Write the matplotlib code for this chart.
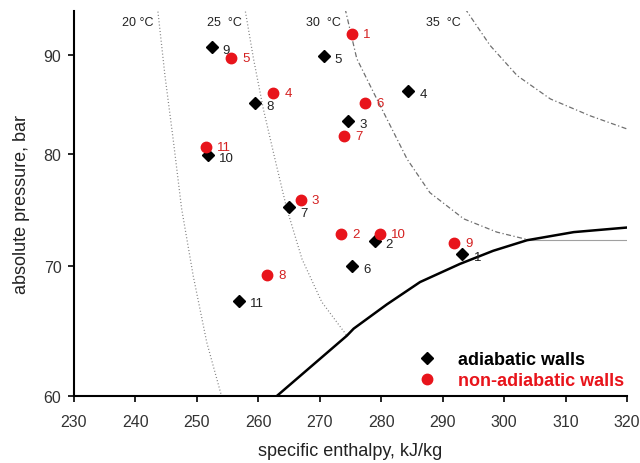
import numpy as np
import matplotlib
matplotlib.use("Agg")
import matplotlib.pyplot as plt
from matplotlib.lines import Line2D
from matplotlib.ticker import FixedLocator, NullLocator

plt.rcParams['font.family'] = ['Liberation Sans', 'DejaVu Sans']

# Adiabatic walls (black diamonds)
adi_labels = ['1', '2', '3', '4', '5', '6', '7', '8', '9', '10', '11']
adi_h = [293.2, 278.9, 274.6, 284.4, 270.6, 275.3, 265.0, 259.5, 252.4, 251.8, 256.9]
adi_p = [71.0, 72.1, 83.2, 86.2, 89.9, 70.0, 75.1, 85.0, 90.8, 79.9, 67.2]

# Non-adiabatic walls (red circles)
non_labels = ['1', '2', '3', '4', '5', '6', '7', '8', '9', '10', '11']
non_h = [275.2, 273.4, 266.9, 262.4, 255.6, 277.4, 274.0, 261.4, 291.8, 279.8, 251.4]
non_p = [92.2, 72.7, 75.7, 86.0, 89.7, 85.0, 81.7, 69.3, 72.0, 72.7, 80.7]

# Saturation curve
sat_h = [263.0, 270.0, 274.4, 275.5, 280.9, 286.3, 292.8, 298.2, 303.7, 311.3, 320.0]
sat_p = [60.0, 62.7, 64.46, 65.0, 66.9, 68.7, 70.2, 71.3, 72.2, 72.9, 73.3]

# Horizontal reference line
hline_h = [304.2, 320.0]
hline_p = [72.2, 72.2]

# Isotherms
iso20_h = [243.6, 244.8, 246.2, 247.5, 249.4, 251.6, 254.0]
iso20_p = [95.1, 87.8, 81.1, 75.0, 69.2, 63.95, 60.0]
iso25_h = [257.8, 259.2, 260.8, 262.7, 264.6, 267.1, 270.3, 274.4]
iso25_p = [95.1, 89.6, 84.4, 79.5, 75.0, 70.6, 67.1, 64.46]
iso30_h = [274.1, 276.0, 278.7, 280.9, 284.2, 287.9, 293.4, 298.8, 304.2]
iso30_p = [95.1, 89.6, 86.1, 83.4, 79.5, 76.4, 74.06, 72.9, 72.2]
iso35_h = [293.6, 297.7, 302.1, 307.5, 314.0, 320.0]
iso35_p = [95.1, 91.0, 87.8, 85.4, 83.7, 82.4]

iso_labels = ['20 °C', '25  °C', '30  °C', '35  °C']
iso_label_h = [243.0, 257.3, 273.5, 293.0]
iso_label_p = [93.6, 93.6, 93.6, 93.6]

x_ticks = [230, 240, 250, 260, 270, 280, 290, 300, 310, 320]
y_ticks = [60, 70, 80, 90]

fig = plt.figure(figsize=(6.4, 4.64), dpi=100)
ax = fig.add_axes([0.1156, 0.1444, 0.8644, 0.8296])
ax.set_yscale('log')
ax.set_xlim(230, 320)
ax.set_ylim(60, 94.8)

dot = (0, (0.8, 1.8))
dashdot = (0, (4, 2, 1, 2))
ax.plot(iso20_h, iso20_p, color='#808080', lw=0.9, ls=dot)
ax.plot(iso25_h, iso25_p, color='#808080', lw=0.9, ls=dot)
ax.plot(iso30_h, iso30_p, color='#707070', lw=0.9, ls=dashdot)
ax.plot(iso35_h, iso35_p, color='#707070', lw=0.9, ls=dashdot)
ax.plot(hline_h, hline_p, color='#a0a0a0', lw=0.8)
ax.plot(sat_h, sat_p, color='black', lw=1.8)

for lab, h, p in zip(iso_labels, iso_label_h, iso_label_p):
    ax.text(h, p, lab, ha='right', va='center', fontsize=9, color='#222222')

ax.plot(adi_h, adi_p, 'D', color='black', ms=6.5, ls='none')
ax.plot(non_h, non_p, 'o', color='#e8141b', ms=7.5, ls='none')

for lab, h, p in zip(adi_labels, adi_h, adi_p):
    off = (8, -2)
    if lab == '7':
        off = (8, -4)
    ax.annotate(lab, (h, p), xytext=off, textcoords='offset points',
                fontsize=9.5, color='#222222', va='center', ha='left')
for lab, h, p in zip(non_labels, non_h, non_p):
    ax.annotate(lab, (h, p), xytext=(8, 0), textcoords='offset points',
                fontsize=9.5, color='#d42020', va='center', ha='left')

ax.set_xticks(x_ticks)
ax.set_xticklabels([str(t) for t in x_ticks])
ax.yaxis.set_major_locator(FixedLocator(y_ticks))
ax.yaxis.set_minor_locator(NullLocator())
ax.set_yticks(y_ticks)
ax.set_yticklabels([str(t) for t in y_ticks])

for s in ['top', 'right']:
    ax.spines[s].set_visible(False)
for s in ['left', 'bottom']:
    ax.spines[s].set_linewidth(1.5)
ax.tick_params(axis='both', direction='out', length=4, width=1.2, labelsize=11.5,
               colors='black', labelcolor='#333333')
ax.tick_params(axis='x', pad=9)
ax.tick_params(axis='y', pad=5)

ax.set_xlabel('specific enthalpy, kJ/kg', fontsize=13, color='#222222', labelpad=9)
ax.set_ylabel('absolute pressure, bar', fontsize=13, color='#222222', labelpad=10)

handles = [Line2D([], [], marker='D', color='black', ls='none', ms=6.5),
           Line2D([], [], marker='o', color='#e8141b', ls='none', ms=7.5)]
leg = ax.legend(handles, ['adiabatic walls', 'non-adiabatic walls'], loc='lower right',
                frameon=False, prop={'weight': 'bold', 'size': 13},
                handletextpad=0.7, bbox_to_anchor=(1.023, -0.025), labelspacing=0.25)
leg.get_texts()[0].set_color('black')
leg.get_texts()[1].set_color('#e8141b')

fig.savefig('out.png', dpi=100)
